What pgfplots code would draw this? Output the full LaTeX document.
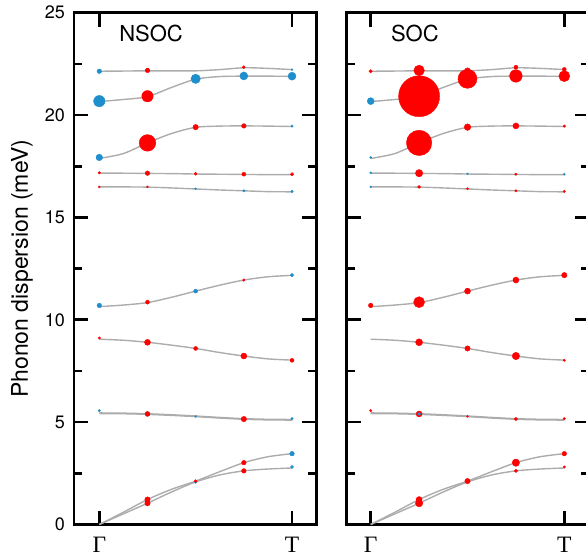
\documentclass[border=0pt]{standalone}
\usepackage{fontspec}
\setmainfont{TeX Gyre Heros}
\newfontfamily\kfont{Liberation Serif}
\usepackage{pgfplots}
\pgfplotsset{compat=1.18}
\usepackage{pgfplotstable}

\definecolor{bandblue}{RGB}{30,142,205}
\definecolor{bandred}{RGB}{255,0,0}
\definecolor{bandgray}{RGB}{172,172,172}

% band energies (meV) along Gamma -> T
\pgfplotstableread{
x     b1    b2    b3    b4    b5    b6    b7   b8   b9   bA   bB
0     22.14 20.66 17.88 17.16 16.49 10.64 9.05 5.45 5.42 0.00 0.00
0.125 22.15 20.76 18.12 17.16 16.49 10.72 9.00 5.44 5.41 0.60 0.52
0.25  22.16 20.90 18.64 17.15 16.48 10.84 8.90 5.41 5.38 1.22 1.04
0.375 22.16 21.35 19.10 17.14 16.44 11.10 8.76 5.36 5.33 1.72 1.59
0.5   22.16 21.75 19.40 17.12 16.39 11.40 8.60 5.30 5.27 2.12 2.08
0.625 22.22 21.88 19.46 17.11 16.34 11.69 8.40 5.23 5.20 2.58 2.42
0.75  22.31 21.90 19.47 17.10 16.30 11.94 8.23 5.17 5.14 3.02 2.62
0.875 22.28 21.90 19.46 17.09 16.26 12.10 8.09 5.14 5.11 3.31 2.71
1     22.22 21.89 19.44 17.09 16.25 12.17 8.03 5.13 5.10 3.46 2.76
}\bands

% weights: x y r (r = marker radius)
\pgfplotstableread{
x y r
0.25 22.18 2.3
0.75 22.34 1.5
0.25 20.92 5.7
0.25 18.64 8.3
0.5 19.41 2.7
0.75 19.47 2.3
0 17.18 1.3
0.25 17.16 2.3
0.5 17.13 1.5
0.75 17.11 2.0
1 17.11 1.7
0 16.49 1.0
0.25 16.49 1.0
0.25 10.86 2.0
0.75 11.94 1.3
0 9.11 1.2
0.25 8.90 3.0
0.5 8.60 2.0
0.75 8.23 3.0
1 8.02 2.0
0.25 5.40 2.5
0.75 5.15 2.7
0.25 1.22 2.7
0.25 1.04 2.7
0.5 2.12 1.5
0.75 3.02 2.3
0.75 2.62 2.3
}\nsocred

\pgfplotstableread{
x y r
0 22.14 2.3
1 22.22 1.0
0 20.68 5.7
0.5 21.77 4.7
0.75 21.91 4.0
1 21.90 4.0
0 17.93 3.3
1 19.46 1.3
0.5 16.40 1.0
0.75 16.30 1.2
1 16.27 1.3
0 10.70 2.3
0.5 11.40 2.0
1 12.18 1.7
0 5.56 1.2
0.5 5.28 1.0
1 5.17 1.3
0.5 2.08 1.5
1 3.46 2.3
1 2.81 1.5
}\nsocblue

\pgfplotstableread{
x y r
0 22.14 1.7
0.25 22.18 5.3
0.5 22.16 3.0
0.75 22.34 2.0
1 22.23 2.0
0.25 20.92 20.5
0.5 21.77 9.5
0.75 21.91 6.3
1 21.90 5.5
0.25 18.64 12.7
0.5 19.41 3.3
0.75 19.47 3.0
1 19.46 1.3
0.25 17.16 3.7
0.75 17.11 1.2
0.25 16.49 1.5
0.5 16.40 1.2
0.75 16.30 1.2
1 16.27 1.2
0 10.70 2.3
0.25 10.86 5.5
0.5 11.40 3.0
0.75 11.94 3.0
1 12.18 2.7
0.25 8.90 3.5
0.5 8.60 2.7
0.75 8.23 3.7
1 8.02 1.2
0 5.56 1.2
0.25 5.40 3.0
0.5 5.28 1.0
0.75 5.15 1.7
1 5.17 1.2
0.25 1.22 3.0
0.25 1.04 3.7
0.5 2.12 2.7
0.75 3.02 3.7
0.75 2.62 1.7
1 3.46 2.3
1 2.81 1.2
}\socred

\pgfplotstableread{
x y r
0 20.68 3.5
0 17.93 1.0
0 17.18 1.0
0.5 17.13 1.0
1 17.11 1.0
0 16.49 1.0
0.25 5.40 1.5
}\socblue

\pgfplotsset{
  panel/.style={
    scale only axis, width=242.3pt, height=511.8pt,
    ymin=0, ymax=25,
    ytick={0,5,...,25}, minor ytick={2.5,7.5,...,22.5},
    xtick={0,1}, xticklabels={Γ,T},
    tick align=inside, major tick length=14pt, minor tick length=8pt,
    tick style={black, line width=2.7pt},
    axis line style={line width=2.7pt},
    /pgf/number format/assume math mode=true,
    yticklabel style={font=\fontsize{18}{18}\selectfont, inner sep=0pt, xshift=-9pt},
    xticklabel style={font=\kfont\fontsize{23.5}{23.5}\selectfont, inner sep=0pt, yshift=-12.2pt},
  },
  bubble/.style={scatter, only marks, mark=*, point meta=\thisrow{r},
    scatter/use mapped color={draw=#1, fill=#1},
    visualization depends on={\thisrow{r}\as\rr},
    scatter/@pre marker code/.append style={/tikz/mark size=\rr}},
  bandline/.style={bandgray, line width=1.4pt, smooth, tension=0.5},
}

\begin{document}
\begin{tikzpicture}
\begin{axis}[panel, at={(0pt,0pt)}, anchor=south west,
    xmin=-0.1313, xmax=1.126,
    ylabel={Phonon dispersion (meV)},
    ylabel style={at={([xshift=-41pt]axis description cs:0,0.5)}, anchor=south,
      inner sep=0pt, font=\fontsize{23}{23}\selectfont}]
  \pgfplotsinvokeforeach{b1,b2,b3,b4,b5,b6,b7,b8,b9,bA,bB}{
    \addplot[bandline] table[x=x, y=#1] {\bands};
  }
  \addplot[bubble=bandblue] table[x=x, y=y] {\nsocblue};
  \addplot[bubble=bandred] table[x=x, y=y] {\nsocred};
  \node[anchor=base west, inner sep=0pt, font=\fontsize{22}{22}\selectfont]
    at (rel axis cs:0.186,0.943) {NSOC};
\end{axis}
\begin{axis}[panel, at={(272.7pt,0pt)}, anchor=south west,
    xmin=-0.124, xmax=1.1276, yticklabels={}]
  \pgfplotsinvokeforeach{b1,b2,b3,b4,b5,b6,b7,b8,b9,bA,bB}{
    \addplot[bandline] table[x=x, y=#1] {\bands};
  }
  \addplot[bubble=bandred] table[x=x, y=y] {\socred};
  \addplot[bubble=bandblue] table[x=x, y=y] {\socblue};
  \node[anchor=base west, inner sep=0pt, font=\fontsize{22}{22}\selectfont]
    at (rel axis cs:0.182,0.943) {SOC};
\end{axis}
\pgfresetboundingbox
\useasboundingbox (-74pt,-30.5pt) rectangle (512pt,524.5pt);
\end{tikzpicture}
\end{document}
